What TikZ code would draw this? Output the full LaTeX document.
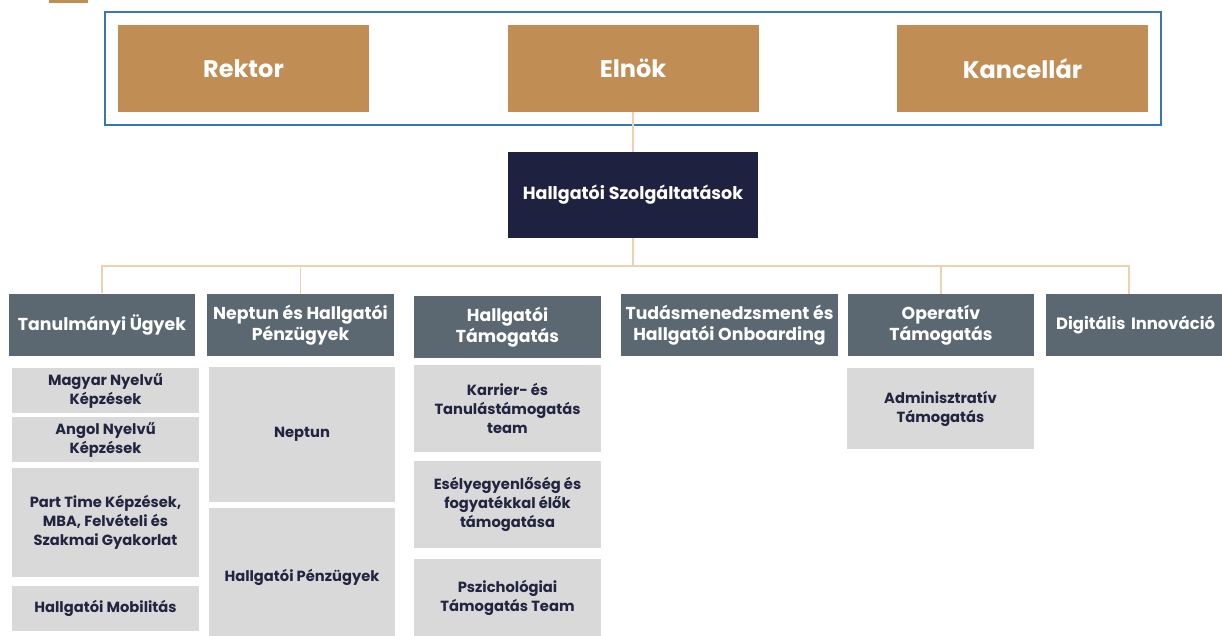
\documentclass[tikz,border=0pt]{standalone}
\usepackage{fontspec}
\setmainfont{Poppins}
\definecolor{tanc}{HTML}{C08E55}
\definecolor{navy}{HTML}{1E2240}
\definecolor{slate}{HTML}{5B6771}
\definecolor{lgray}{HTML}{D9D9D9}
\definecolor{linec}{HTML}{EAD2B2}
\definecolor{frameblue}{HTML}{3778B0}
\definecolor{subtext}{HTML}{22253F}
\begin{document}
\begin{tikzpicture}[x=1pt,y=-1pt,
  topbox/.style={fill=tanc, text=white, font=\fontsize{24}{28}\selectfont\bfseries, minimum width=251pt, minimum height=87pt, inner sep=0pt},
  mainbox/.style={fill=navy, text=white, font=\fontsize{17.5}{21}\selectfont\bfseries, minimum width=250pt, minimum height=86pt, inner sep=0pt},
  lvtwo/.style={fill=slate, text=white, font=\fontsize{17.3}{20.5}\selectfont\bfseries, align=center, minimum height=62pt, inner sep=0pt},
  subbox/.style={fill=lgray, text=subtext, font=\fontsize{14.7}{19}\selectfont\bfseries, align=center, inner sep=0pt},
  conn/.style={draw=linec, line width=1.3pt},
  framebox/.style={draw=frameblue, line width=1.4pt, minimum width=1056pt, minimum height=113pt, inner sep=0pt}
]
\useasboundingbox (0,0) rectangle (1222,636);
\fill[tanc] (49,-10) rectangle (88,3);
% top frame
\node[framebox] (frame) at (633,68.5) {};
\node[topbox] (rektor) at (243.5,68.5) {Rektor};
\node[topbox] (elnok) at (633,68.5) {Elnök};
\node[topbox] (kanc) at (1022.5,68.5) {Kancellár};
\node[mainbox] (hsz) at (633,195) {Hallgatói Szolgáltatások};
% level two
\node[lvtwo, minimum width=186pt] (tan) at (102,324.5) {Tanulmányi Ügyek};
\node[lvtwo, minimum width=187pt] (nep) at (300.5,325) {Neptun és Hallgatói\\Pénzügyek};
\node[lvtwo, minimum width=187pt] (ht) at (507.5,327) {Hallgatói\\Támogatás};
\node[lvtwo, minimum width=217pt] (tud) at (729.5,325) {Tudásmenedzsment és\\Hallgatói Onboarding};
\node[lvtwo, minimum width=186pt] (op) at (941,325) {Operatív\\Támogatás};
\node[lvtwo, anchor=west, text width=190pt, align=left, inner xsep=10pt, font=\fontsize{16.4}{20}\selectfont\bfseries] (dig) at (1046,325) {Digitális Innováció};
% connectors
\coordinate (bus) at (633,266);
\coordinate (digtop) at (1129,294);
\draw[conn] (elnok.south) -- (hsz.north);
\draw[conn] (hsz.south) -- (bus);
\draw[conn] (tan.north) |- (bus);
\draw[conn] (nep.north) |- (bus);
\draw[conn] (op.north) |- (bus);
\draw[conn] (digtop) |- (bus);
% sub boxes column 1
\node[subbox, minimum width=187pt, minimum height=45pt] (mag) at (105.5,390.5) {Magyar Nyelvű\\Képzések};
\node[subbox, minimum width=187pt, minimum height=45pt] (ang) at (105.5,439.5) {Angol Nyelvű\\Képzések};
\node[subbox, minimum width=187pt, minimum height=109pt] (part) at (105.5,522.5) {Part Time Képzések,\\MBA, Felvételi és\\Szakmai Gyakorlat};
\node[subbox, minimum width=187pt, minimum height=45pt] (mob) at (105.5,608.5) {Hallgatói Mobilitás};
% column 2
\node[subbox, minimum width=186pt, minimum height=135pt] (neptun) at (302,434.5) {Neptun};
\node[subbox, minimum width=186pt, minimum height=138pt] (hpen) at (302,577) {Hallgatói Pénzügyek};
% column 3
\node[subbox, minimum width=187pt, minimum height=87pt] (karr) at (507.5,408.5) {Karrier- és\\Tanulástámogatás\\team};
\node[subbox, minimum width=187pt, minimum height=87pt] (esely) at (507.5,504.5) {Esélyegyenlőség és\\fogyatékkal élők\\támogatása};
\node[subbox, minimum width=187pt, minimum height=77pt] (psz) at (507.5,597.5) {Pszichológiai\\Támogatás Team};
% column 5
\node[subbox, minimum width=187pt, minimum height=81pt] (adm) at (940.5,408.5) {Adminisztratív\\Támogatás};
\end{tikzpicture}
\end{document}
